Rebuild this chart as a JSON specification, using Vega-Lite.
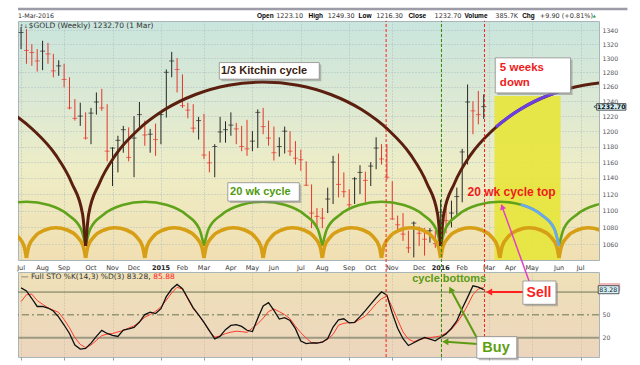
{
"$schema":"https://vega.github.io/schema/vega-lite/v6.json",
"background":"white",
"padding":{"left":16,"top":7,"right":0,"bottom":0},
"bounds":"flush",
"spacing":12,
"config":{"font":"DejaVu Sans","axis":{"labelOverlap":false,"labelBound":false}},
"datasets":{
"months":[{"d":"2014-07-11"},{"d":"2014-08-08"},{"d":"2014-09-05"},{"d":"2014-10-10"},{"d":"2014-11-07"},{"d":"2014-12-05"},{"d":"2015-01-09"},{"d":"2015-02-06"},{"d":"2015-03-06"},{"d":"2015-04-10"},{"d":"2015-05-08"},{"d":"2015-06-05"},{"d":"2015-07-10"},{"d":"2015-08-07"},{"d":"2015-09-11"},{"d":"2015-10-09"},{"d":"2015-11-06"},{"d":"2015-12-11"},{"d":"2016-01-08"},{"d":"2016-02-05"},{"d":"2016-03-11"},{"d":"2016-04-08"},{"d":"2016-05-06"},{"d":"2016-06-10"},{"d":"2016-07-08"}],
"bars":[
{"d":"2014-07-11","h":1345,"l":1313,"c":1337,"dir":"up","k":85.5,"s":67.4},
{"d":"2014-07-18","h":1342,"l":1292,"c":1311,"dir":"down","k":81.5,"s":76.5},
{"d":"2014-07-25","h":1320,"l":1289,"c":1308,"dir":"down","k":71.5,"s":77.3},
{"d":"2014-08-01","h":1313,"l":1281,"c":1296,"dir":"down","k":61.0,"s":68.8},
{"d":"2014-08-08","h":1325,"l":1283,"c":1310,"dir":"up","k":61.0,"s":63.9},
{"d":"2014-08-15","h":1322,"l":1292,"c":1306,"dir":"down","k":59.0,"s":59.3},
{"d":"2014-08-22","h":1306,"l":1273,"c":1282,"dir":"down","k":55.0,"s":56.2},
{"d":"2014-08-29","h":1297,"l":1275,"c":1289,"dir":"up","k":47.0,"s":53.2},
{"d":"2014-09-05","h":1292,"l":1259,"c":1270,"dir":"down","k":36.6,"s":43.8},
{"d":"2014-09-12","h":1273,"l":1229,"c":1231,"dir":"down","k":25.5,"s":33.0},
{"d":"2014-09-19","h":1243,"l":1214,"c":1217,"dir":"down","k":10.3,"s":20.0},
{"d":"2014-09-26","h":1238,"l":1207,"c":1220,"dir":"up","k":5.0,"s":11.1},
{"d":"2014-10-03","h":1225,"l":1189,"c":1191,"dir":"down","k":5.7,"s":6.8},
{"d":"2014-10-10","h":1231,"l":1183,"c":1224,"dir":"up","k":12.8,"s":10.3},
{"d":"2014-10-17","h":1252,"l":1222,"c":1239,"dir":"up","k":21.6,"s":16.3},
{"d":"2014-10-24","h":1257,"l":1227,"c":1231,"dir":"down","k":29.5,"s":22.7},
{"d":"2014-10-31","h":1236,"l":1161,"c":1174,"dir":"down","k":25.5,"s":24.6},
{"d":"2014-11-07","h":1179,"l":1130,"c":1178,"dir":"up","k":23.0,"s":25.4},
{"d":"2014-11-14","h":1194,"l":1147,"c":1188,"dir":"up","k":21.5,"s":27.5},
{"d":"2014-11-21","h":1207,"l":1172,"c":1202,"dir":"up","k":29.9,"s":29.3},
{"d":"2014-11-28","h":1205,"l":1161,"c":1166,"dir":"down","k":31.5,"s":32.6},
{"d":"2014-12-05","h":1220,"l":1141,"c":1191,"dir":"up","k":33.5,"s":35.5},
{"d":"2014-12-12","h":1239,"l":1205,"c":1222,"dir":"up","k":40.5,"s":40.5},
{"d":"2014-12-19","h":1214,"l":1181,"c":1195,"dir":"down","k":50.3,"s":46.9},
{"d":"2014-12-26","h":1203,"l":1172,"c":1196,"dir":"up","k":53.5,"s":50.4},
{"d":"2015-01-02","h":1210,"l":1168,"c":1189,"dir":"down","k":51.7,"s":54.7},
{"d":"2015-01-09","h":1225,"l":1183,"c":1222,"dir":"up","k":58.1,"s":60.4},
{"d":"2015-01-16","h":1284,"l":1218,"c":1280,"dir":"up","k":74.0,"s":69.3},
{"d":"2015-01-23","h":1309,"l":1273,"c":1296,"dir":"up","k":84.0,"s":79.0},
{"d":"2015-01-30","h":1300,"l":1252,"c":1284,"dir":"down","k":90.0,"s":86.3},
{"d":"2015-02-06","h":1277,"l":1231,"c":1234,"dir":"down","k":84.5,"s":83.9},
{"d":"2015-02-13","h":1238,"l":1217,"c":1228,"dir":"down","k":71.9,"s":70.8},
{"d":"2015-02-20","h":1236,"l":1198,"c":1204,"dir":"down","k":59.3,"s":58.1},
{"d":"2015-02-27","h":1219,"l":1189,"c":1214,"dir":"up","k":50.0,"s":49.7},
{"d":"2015-03-06","h":1223,"l":1164,"c":1169,"dir":"down","k":40.1,"s":39.8},
{"d":"2015-03-13","h":1174,"l":1147,"c":1159,"dir":"down","k":29.2,"s":28.3},
{"d":"2015-03-20","h":1183,"l":1141,"c":1180,"dir":"up","k":18.3,"s":20.5},
{"d":"2015-03-27","h":1219,"l":1185,"c":1199,"dir":"up","k":21.8,"s":22.3},
{"d":"2015-04-03","h":1213,"l":1185,"c":1202,"dir":"up","k":30.5,"s":25.3},
{"d":"2015-04-10","h":1225,"l":1194,"c":1208,"dir":"up","k":36.0,"s":27.2},
{"d":"2015-04-17","h":1211,"l":1183,"c":1203,"dir":"down","k":37.0,"s":28.4},
{"d":"2015-04-24","h":1207,"l":1174,"c":1180,"dir":"down","k":34.8,"s":27.9},
{"d":"2015-05-01","h":1215,"l":1168,"c":1177,"dir":"down","k":29.7,"s":26.9},
{"d":"2015-05-08","h":1200,"l":1174,"c":1187,"dir":"up","k":28.0,"s":32.7},
{"d":"2015-05-15","h":1229,"l":1178,"c":1225,"dir":"up","k":45.5,"s":38.2},
{"d":"2015-05-22","h":1231,"l":1196,"c":1206,"dir":"down","k":61.7,"s":45.6},
{"d":"2015-05-29","h":1214,"l":1181,"c":1191,"dir":"down","k":66.0,"s":54.3},
{"d":"2015-06-05","h":1206,"l":1162,"c":1172,"dir":"down","k":55.8,"s":57.7},
{"d":"2015-06-12","h":1192,"l":1167,"c":1180,"dir":"up","k":44.5,"s":54.2},
{"d":"2015-06-19","h":1206,"l":1171,"c":1200,"dir":"up","k":46.4,"s":50.2},
{"d":"2015-06-26","h":1200,"l":1168,"c":1174,"dir":"down","k":42.5,"s":44.9},
{"d":"2015-07-03","h":1187,"l":1157,"c":1165,"dir":"down","k":31.8,"s":35.1},
{"d":"2015-07-10","h":1176,"l":1149,"c":1163,"dir":"down","k":15.6,"s":26.4},
{"d":"2015-07-17","h":1161,"l":1130,"c":1131,"dir":"down","k":12.2,"s":19.5},
{"d":"2015-07-24","h":1132,"l":1079,"c":1097,"dir":"down","k":13.2,"s":13.4},
{"d":"2015-07-31","h":1103,"l":1078,"c":1093,"dir":"down","k":12.9,"s":12.8},
{"d":"2015-08-07","h":1103,"l":1079,"c":1091,"dir":"down","k":14.0,"s":14.4},
{"d":"2015-08-14","h":1128,"l":1097,"c":1114,"dir":"up","k":18.9,"s":17.9},
{"d":"2015-08-21","h":1168,"l":1108,"c":1160,"dir":"up","k":34.0,"s":24.3},
{"d":"2015-08-28","h":1171,"l":1116,"c":1132,"dir":"down","k":43.5,"s":36.4},
{"d":"2015-09-04","h":1147,"l":1116,"c":1123,"dir":"down","k":44.8,"s":38.9},
{"d":"2015-09-11","h":1126,"l":1101,"c":1107,"dir":"down","k":39.4,"s":39.8},
{"d":"2015-09-18","h":1141,"l":1108,"c":1139,"dir":"up","k":40.2,"s":39.8},
{"d":"2015-09-25","h":1156,"l":1120,"c":1147,"dir":"up","k":47.6,"s":44.2},
{"d":"2015-10-02","h":1148,"l":1110,"c":1137,"dir":"down","k":55.6,"s":48.4},
{"d":"2015-10-09","h":1160,"l":1130,"c":1155,"dir":"up","k":64.2,"s":56.3},
{"d":"2015-10-16","h":1192,"l":1151,"c":1178,"dir":"up","k":72.5,"s":64.6},
{"d":"2015-10-23","h":1183,"l":1157,"c":1164,"dir":"down","k":80.4,"s":71.2},
{"d":"2015-10-30","h":1183,"l":1138,"c":1141,"dir":"down","k":75.9,"s":74.5},
{"d":"2015-11-06","h":1136,"l":1089,"c":1090,"dir":"down","k":52.2,"s":60.1},
{"d":"2015-11-13","h":1094,"l":1076,"c":1083,"dir":"down","k":32.3,"s":43.4},
{"d":"2015-11-20","h":1097,"l":1064,"c":1072,"dir":"down","k":18.6,"s":27.5},
{"d":"2015-11-27","h":1076,"l":1050,"c":1056,"dir":"down","k":9.6,"s":18.0},
{"d":"2015-12-04","h":1087,"l":1045,"c":1085,"dir":"up","k":13.3,"s":14.7},
{"d":"2015-12-11","h":1081,"l":1058,"c":1073,"dir":"down","k":17.1,"s":17.2},
{"d":"2015-12-18","h":1079,"l":1047,"c":1066,"dir":"down","k":20.2,"s":19.0},
{"d":"2015-12-25","h":1079,"l":1062,"c":1076,"dir":"up","k":18.1,"s":19.9},
{"d":"2016-01-01","h":1076,"l":1056,"c":1061,"dir":"down","k":15.7,"s":21.0},
{"d":"2016-01-08","h":1113,"l":1072,"c":1098,"dir":"up","k":20.5,"s":22.2},
{"d":"2016-01-15","h":1105,"l":1073,"c":1088,"dir":"down","k":24.9,"s":26.2},
{"d":"2016-01-22","h":1112,"l":1080,"c":1097,"dir":"up","k":32.4,"s":30.7},
{"d":"2016-01-29","h":1128,"l":1095,"c":1117,"dir":"up","k":42.0,"s":39.2},
{"d":"2016-02-05","h":1177,"l":1110,"c":1173,"dir":"up","k":58.4,"s":49.8},
{"d":"2016-02-12","h":1263,"l":1157,"c":1239,"dir":"up","k":73.0,"s":62.5},
{"d":"2016-02-19","h":1240,"l":1196,"c":1227,"dir":"down","k":88.2,"s":76.6},
{"d":"2016-02-26","h":1254,"l":1209,"c":1222,"dir":"down","k":86.5,"s":84.1},
{"d":"2016-03-04","h":1249.3,"l":1216.3,"c":1232.7,"dir":"up","k":83.28,"s":85.88}
],
"cyc":[
{"c":"o","a":0,"d":"2014-05-02","v":2},{"c":"o","a":0,"d":"2014-05-05","v":13.6},{"c":"o","a":0,"d":"2014-05-13","v":23.4},{"c":"o","a":0,"d":"2014-05-26","v":30},{"c":"o","a":0,"d":"2014-06-09","v":32.3},{"c":"o","a":0,"d":"2014-06-24","v":30},{"c":"o","a":0,"d":"2014-07-07","v":23.4},{"c":"o","a":0,"d":"2014-07-15","v":13.6},{"c":"o","a":0,"d":"2014-07-18","v":2},
{"c":"o","a":1,"d":"2014-07-18","v":2},{"c":"o","a":1,"d":"2014-07-21","v":13.6},{"c":"o","a":1,"d":"2014-07-29","v":23.4},{"c":"o","a":1,"d":"2014-08-11","v":30},{"c":"o","a":1,"d":"2014-08-25","v":32.3},{"c":"o","a":1,"d":"2014-09-09","v":30},{"c":"o","a":1,"d":"2014-09-22","v":23.4},{"c":"o","a":1,"d":"2014-09-30","v":13.6},{"c":"o","a":1,"d":"2014-10-03","v":2},
{"c":"o","a":2,"d":"2014-10-03","v":2},{"c":"o","a":2,"d":"2014-10-06","v":13.6},{"c":"o","a":2,"d":"2014-10-14","v":23.4},{"c":"o","a":2,"d":"2014-10-27","v":30},{"c":"o","a":2,"d":"2014-11-10","v":32.3},{"c":"o","a":2,"d":"2014-11-25","v":30},{"c":"o","a":2,"d":"2014-12-08","v":23.4},{"c":"o","a":2,"d":"2014-12-16","v":13.6},{"c":"o","a":2,"d":"2014-12-19","v":2},
{"c":"o","a":3,"d":"2014-12-19","v":2},{"c":"o","a":3,"d":"2014-12-22","v":13.6},{"c":"o","a":3,"d":"2014-12-30","v":23.4},{"c":"o","a":3,"d":"2015-01-12","v":30},{"c":"o","a":3,"d":"2015-01-26","v":32.3},{"c":"o","a":3,"d":"2015-02-10","v":30},{"c":"o","a":3,"d":"2015-02-23","v":23.4},{"c":"o","a":3,"d":"2015-03-03","v":13.6},{"c":"o","a":3,"d":"2015-03-06","v":2},
{"c":"o","a":4,"d":"2015-03-06","v":2},{"c":"o","a":4,"d":"2015-03-09","v":13.6},{"c":"o","a":4,"d":"2015-03-17","v":23.4},{"c":"o","a":4,"d":"2015-03-30","v":30},{"c":"o","a":4,"d":"2015-04-13","v":32.3},{"c":"o","a":4,"d":"2015-04-28","v":30},{"c":"o","a":4,"d":"2015-05-11","v":23.4},{"c":"o","a":4,"d":"2015-05-19","v":13.6},{"c":"o","a":4,"d":"2015-05-22","v":2},
{"c":"o","a":5,"d":"2015-05-22","v":2},{"c":"o","a":5,"d":"2015-05-25","v":13.6},{"c":"o","a":5,"d":"2015-06-02","v":23.4},{"c":"o","a":5,"d":"2015-06-15","v":30},{"c":"o","a":5,"d":"2015-06-29","v":32.3},{"c":"o","a":5,"d":"2015-07-14","v":30},{"c":"o","a":5,"d":"2015-07-27","v":23.4},{"c":"o","a":5,"d":"2015-08-04","v":13.6},{"c":"o","a":5,"d":"2015-08-07","v":2},
{"c":"o","a":6,"d":"2015-08-07","v":2},{"c":"o","a":6,"d":"2015-08-10","v":13.6},{"c":"o","a":6,"d":"2015-08-18","v":23.4},{"c":"o","a":6,"d":"2015-08-31","v":30},{"c":"o","a":6,"d":"2015-09-14","v":32.3},{"c":"o","a":6,"d":"2015-09-29","v":30},{"c":"o","a":6,"d":"2015-10-12","v":23.4},{"c":"o","a":6,"d":"2015-10-20","v":13.6},{"c":"o","a":6,"d":"2015-10-23","v":2},
{"c":"o","a":7,"d":"2015-10-23","v":2},{"c":"o","a":7,"d":"2015-10-26","v":13.6},{"c":"o","a":7,"d":"2015-11-03","v":23.4},{"c":"o","a":7,"d":"2015-11-16","v":30},{"c":"o","a":7,"d":"2015-11-30","v":32.3},{"c":"o","a":7,"d":"2015-12-15","v":30},{"c":"o","a":7,"d":"2015-12-28","v":23.4},{"c":"o","a":7,"d":"2016-01-05","v":13.6},{"c":"o","a":7,"d":"2016-01-08","v":2},
{"c":"o","a":8,"d":"2016-01-08","v":2},{"c":"o","a":8,"d":"2016-01-11","v":13.6},{"c":"o","a":8,"d":"2016-01-19","v":23.4},{"c":"o","a":8,"d":"2016-02-01","v":30},{"c":"o","a":8,"d":"2016-02-15","v":32.3},{"c":"o","a":8,"d":"2016-03-01","v":30},{"c":"o","a":8,"d":"2016-03-14","v":23.4},{"c":"o","a":8,"d":"2016-03-22","v":13.6},{"c":"o","a":8,"d":"2016-03-25","v":2},
{"c":"o","a":9,"d":"2016-03-25","v":2},{"c":"o","a":9,"d":"2016-03-28","v":13.6},{"c":"o","a":9,"d":"2016-04-05","v":23.4},{"c":"o","a":9,"d":"2016-04-18","v":30},{"c":"o","a":9,"d":"2016-05-02","v":32.3},{"c":"o","a":9,"d":"2016-05-17","v":30},{"c":"o","a":9,"d":"2016-05-30","v":23.4},{"c":"o","a":9,"d":"2016-06-07","v":13.6},{"c":"o","a":9,"d":"2016-06-10","v":2},
{"c":"o","a":10,"d":"2016-06-10","v":2},{"c":"o","a":10,"d":"2016-06-13","v":13.6},{"c":"o","a":10,"d":"2016-06-21","v":23.4},{"c":"o","a":10,"d":"2016-07-04","v":30},{"c":"o","a":10,"d":"2016-07-18","v":32.3},{"c":"o","a":10,"d":"2016-08-02","v":30},{"c":"o","a":10,"d":"2016-08-15","v":23.4},{"c":"o","a":10,"d":"2016-08-23","v":13.6},{"c":"o","a":10,"d":"2016-08-26","v":2},
{"c":"g","a":0,"d":"2014-05-02","v":14},{"c":"g","a":0,"d":"2014-05-08","v":31},{"c":"g","a":0,"d":"2014-05-25","v":45.3},{"c":"g","a":0,"d":"2014-06-19","v":54.9},{"c":"g","a":0,"d":"2014-07-18","v":58.3},{"c":"g","a":0,"d":"2014-08-16","v":54.9},{"c":"g","a":0,"d":"2014-09-10","v":45.3},{"c":"g","a":0,"d":"2014-09-27","v":31},{"c":"g","a":0,"d":"2014-10-03","v":14},
{"c":"g","a":1,"d":"2014-10-03","v":14},{"c":"g","a":1,"d":"2014-10-09","v":31},{"c":"g","a":1,"d":"2014-10-26","v":45.3},{"c":"g","a":1,"d":"2014-11-20","v":54.9},{"c":"g","a":1,"d":"2014-12-19","v":58.3},{"c":"g","a":1,"d":"2015-01-17","v":54.9},{"c":"g","a":1,"d":"2015-02-11","v":45.3},{"c":"g","a":1,"d":"2015-02-28","v":31},{"c":"g","a":1,"d":"2015-03-06","v":14},
{"c":"g","a":2,"d":"2015-03-06","v":14},{"c":"g","a":2,"d":"2015-03-12","v":31},{"c":"g","a":2,"d":"2015-03-29","v":45.3},{"c":"g","a":2,"d":"2015-04-23","v":54.9},{"c":"g","a":2,"d":"2015-05-22","v":58.3},{"c":"g","a":2,"d":"2015-06-20","v":54.9},{"c":"g","a":2,"d":"2015-07-15","v":45.3},{"c":"g","a":2,"d":"2015-08-01","v":31},{"c":"g","a":2,"d":"2015-08-07","v":14},
{"c":"g","a":3,"d":"2015-08-07","v":14},{"c":"g","a":3,"d":"2015-08-13","v":31},{"c":"g","a":3,"d":"2015-08-30","v":45.3},{"c":"g","a":3,"d":"2015-09-24","v":54.9},{"c":"g","a":3,"d":"2015-10-23","v":58.3},{"c":"g","a":3,"d":"2015-11-21","v":54.9},{"c":"g","a":3,"d":"2015-12-16","v":45.3},{"c":"g","a":3,"d":"2016-01-02","v":31},{"c":"g","a":3,"d":"2016-01-08","v":14},
{"c":"g","a":4,"d":"2016-01-08","v":14},{"c":"g","a":4,"d":"2016-01-14","v":31},{"c":"g","a":4,"d":"2016-01-31","v":45.3},{"c":"g","a":4,"d":"2016-02-25","v":54.9},{"c":"g","a":4,"d":"2016-03-25","v":58.3},{"c":"g","a":4,"d":"2016-04-23","v":54.9},{"c":"g","a":4,"d":"2016-05-18","v":45.3},{"c":"g","a":4,"d":"2016-06-04","v":31},{"c":"g","a":4,"d":"2016-06-10","v":14},
{"c":"g","a":5,"d":"2016-06-10","v":14},{"c":"g","a":5,"d":"2016-06-16","v":31},{"c":"g","a":5,"d":"2016-07-03","v":45.3},{"c":"g","a":5,"d":"2016-07-28","v":54.9},{"c":"g","a":5,"d":"2016-08-26","v":58.3},{"c":"g","a":5,"d":"2016-09-24","v":54.9},{"c":"g","a":5,"d":"2016-10-19","v":45.3},{"c":"g","a":5,"d":"2016-11-05","v":31},{"c":"g","a":5,"d":"2016-11-11","v":14},
{"c":"k","a":0,"d":"2014-02-14","v":178},{"c":"k","a":0,"d":"2014-03-31","v":174.8},{"c":"k","a":0,"d":"2014-05-13","v":165.5},{"c":"k","a":0,"d":"2014-06-22","v":150.4},{"c":"k","a":0,"d":"2014-07-27","v":130},{"c":"k","a":0,"d":"2014-08-25","v":105.1},{"c":"k","a":0,"d":"2014-09-15","v":76.8},{"c":"k","a":0,"d":"2014-09-29","v":46},{"c":"k","a":0,"d":"2014-10-03","v":14},
{"c":"k","a":1,"d":"2014-10-03","v":14},{"c":"k","a":1,"d":"2014-10-07","v":46},{"c":"k","a":1,"d":"2014-10-21","v":76.8},{"c":"k","a":1,"d":"2014-11-11","v":105.1},{"c":"k","a":1,"d":"2014-12-10","v":130},{"c":"k","a":1,"d":"2015-01-14","v":150.4},{"c":"k","a":1,"d":"2015-02-23","v":165.5},{"c":"k","a":1,"d":"2015-04-07","v":174.8},{"c":"k","a":1,"d":"2015-05-22","v":178},{"c":"k","a":1,"d":"2015-07-06","v":174.8},{"c":"k","a":1,"d":"2015-08-18","v":165.5},{"c":"k","a":1,"d":"2015-09-27","v":150.4},{"c":"k","a":1,"d":"2015-11-01","v":130},{"c":"k","a":1,"d":"2015-11-30","v":105.1},{"c":"k","a":1,"d":"2015-12-21","v":76.8},{"c":"k","a":1,"d":"2016-01-04","v":46},{"c":"k","a":1,"d":"2016-01-08","v":14},
{"c":"k","a":2,"d":"2016-01-08","v":14},{"c":"k","a":2,"d":"2016-01-12","v":46},{"c":"k","a":2,"d":"2016-01-26","v":76.8},{"c":"k","a":2,"d":"2016-02-16","v":105.1},{"c":"k","a":2,"d":"2016-03-16","v":130},{"c":"k","a":2,"d":"2016-04-20","v":150.4},{"c":"k","a":2,"d":"2016-05-30","v":165.5},{"c":"k","a":2,"d":"2016-07-12","v":174.8},{"c":"k","a":2,"d":"2016-08-26","v":178},{"c":"k","a":2,"d":"2016-10-10","v":174.8},
{"c":"p","a":0,"d":"2016-03-20","v":133},{"c":"p","a":0,"d":"2016-04-05","v":142.8},{"c":"p","a":0,"d":"2016-04-20","v":150.4},{"c":"p","a":0,"d":"2016-05-12","v":159.7},{"c":"p","a":0,"d":"2016-05-30","v":165.5},{"c":"p","a":0,"d":"2016-06-12","v":169.1},
{"c":"b","a":0,"d":"2016-04-21","v":55.5},{"c":"b","a":0,"d":"2016-05-07","v":50.75},{"c":"b","a":0,"d":"2016-05-18","v":45.3},{"c":"b","a":0,"d":"2016-06-04","v":31},{"c":"b","a":0,"d":"2016-06-10","v":14}
]
},
"vconcat":[
{
"width":581,"height":239,
"view":{"fill":{"gradient":"linear","x1":0,"y1":0,"x2":0,"y2":1,"stops":[{"offset":0,"color":"#c9e5dd"},{"offset":0.35,"color":"#dde9d3"},{"offset":0.62,"color":"#eeedc6"},{"offset":1,"color":"#f1dfb2"}]},"stroke":"#a9b6b9"},
"resolve":{"scale":{"y":"independent"}},
"layer":[
{"layer":[
{"data":{"values":[{}]},"mark":{"type":"rect","fill":"#e7e53d","opacity":0.92},
"encoding":{
"x":{"datum":{"year":2016,"month":3,"date":18},"type":"temporal","scale":{"domain":[{"year":2014,"month":7,"date":7},{"year":2016,"month":8,"date":1}],"nice":false},
"axis":{"values":[{"year":2014,"month":7,"date":11},{"year":2014,"month":8,"date":8},{"year":2014,"month":9,"date":5},{"year":2014,"month":10,"date":10},{"year":2014,"month":11,"date":7},{"year":2014,"month":12,"date":5},{"year":2015,"month":1,"date":9},{"year":2015,"month":2,"date":6},{"year":2015,"month":3,"date":6},{"year":2015,"month":4,"date":10},{"year":2015,"month":5,"date":8},{"year":2015,"month":6,"date":5},{"year":2015,"month":7,"date":10},{"year":2015,"month":8,"date":7},{"year":2015,"month":9,"date":11},{"year":2015,"month":10,"date":9},{"year":2015,"month":11,"date":6},{"year":2015,"month":12,"date":11},{"year":2016,"month":1,"date":8},{"year":2016,"month":2,"date":5},{"year":2016,"month":3,"date":11},{"year":2016,"month":4,"date":8},{"year":2016,"month":5,"date":6},{"year":2016,"month":6,"date":10},{"year":2016,"month":7,"date":8}],
"labels":false,"grid":true,"gridColor":"#aebfc0","gridDash":[1,2],"ticks":false,"domain":false,"title":null}},
"x2":{"datum":{"year":2016,"month":6,"date":12}},
"y":{"datum":1042,"type":"quantitative","scale":{"type":"log","domain":[1042,1354],"nice":false},
"axis":{"orient":"right","values":[1060,1080,1100,1120,1140,1160,1180,1200,1220,1240,1260,1280,1300,1320,1340],"format":"d","grid":true,"gridColor":"#aebfc0","gridDash":[1,2],"ticks":false,"domain":false,"labelFont":"DejaVu Sans","labelFontSize":6.2,"labelColor":"#555","labelPadding":3,"labelOverlap":false,"title":null}},
"y2":{"datum":1247.3}}},
{"data":{"name":"bars"},"mark":{"type":"rule","strokeWidth":1},
"encoding":{"x":{"field":"d","type":"temporal"},"y":{"field":"l","type":"quantitative"},"y2":{"field":"h"},
"color":{"field":"dir","type":"nominal","scale":{"domain":["up","down"],"range":["#262626","#e5362d"]},"legend":null}}},
{"data":{"name":"bars"},"mark":{"type":"tick","orient":"horizontal","size":5,"thickness":1},
"encoding":{"x":{"field":"d","type":"temporal"},"y":{"field":"c","type":"quantitative"},
"color":{"field":"dir","type":"nominal","scale":{"domain":["up","down"],"range":["#262626","#e5362d"]},"legend":null}}}
]},
{"data":{"name":"cyc"},"layer":[
{"transform":[{"filter":"datum.c == 'g'"}],"mark":{"type":"line","interpolate":"monotone","clip":true,"strokeWidth":2.6,"color":"#5fa31a"},
"encoding":{"x":{"field":"d","type":"temporal"},"y":{"field":"v","type":"quantitative","scale":{"domain":[0,239],"nice":false,"zero":false},"axis":null},"detail":{"field":"a"}}},
{"transform":[{"filter":"datum.c == 'o'"}],"mark":{"type":"line","interpolate":"monotone","clip":true,"strokeWidth":3.6,"color":"#d69f16"},
"encoding":{"x":{"field":"d","type":"temporal"},"y":{"field":"v","type":"quantitative","axis":null},"detail":{"field":"a"}}},
{"transform":[{"filter":"datum.c == 'k'"}],"mark":{"type":"line","interpolate":"monotone","clip":true,"strokeWidth":3,"color":"#5b1f0f"},
"encoding":{"x":{"field":"d","type":"temporal"},"y":{"field":"v","type":"quantitative","axis":null},"detail":{"field":"a"}}},
{"transform":[{"filter":"datum.c == 'b'"}],"mark":{"type":"line","interpolate":"monotone","clip":true,"strokeWidth":2.8,"color":"#6aa9f2"},
"encoding":{"x":{"field":"d","type":"temporal"},"y":{"field":"v","type":"quantitative","axis":null},"detail":{"field":"a"}}},
{"transform":[{"filter":"datum.c == 'p'"}],"mark":{"type":"line","interpolate":"monotone","clip":true,"strokeWidth":3.2,"color":"#6b3fe3"},
"encoding":{"x":{"field":"d","type":"temporal"},"y":{"field":"v","type":"quantitative","axis":null},"detail":{"field":"a"}}}
]},
{"data":{"values":[{}]},"layer":[
{"mark":{"type":"rule","color":"#9c9ca8","strokeWidth":2.5},"encoding":{"x":{"datum":{"year":2014,"month":7,"date":7},"type":"temporal"},"x2":{"datum":{"year":2016,"month":9,"date":7}},"y":{"datum":1372,"type":"quantitative","scale":{"type":"log","domain":[1042,1354],"nice":false},"axis":null}}},
{"data":{"name":"months"},"transform":[{"filter":"month(datum.d) != 0"}],"mark":{"type":"text","align":"center","baseline":"middle","font":"DejaVu Sans","fontSize":6.5,"color":"#333"},"encoding":{"x":{"field":"d","type":"temporal"},"y":{"datum":1033.3,"type":"quantitative","axis":null},"text":{"field":"d","type":"temporal","format":"%b"}}},
{"data":{"name":"months"},"transform":[{"filter":"month(datum.d) == 0"}],"mark":{"type":"text","align":"center","baseline":"middle","font":"DejaVu Sans","fontSize":6.5,"fontWeight":"bold","color":"#222"},"encoding":{"x":{"field":"d","type":"temporal"},"y":{"datum":1033.3,"type":"quantitative","axis":null},"text":{"field":"d","type":"temporal","format":"%Y"}}},
{"mark":{"type":"text","align":"left","baseline":"middle","font":"DejaVu Sans","fontSize":6.3,"color":"#333"},"encoding":{"x":{"datum":{"year":2014,"month":7,"date":7},"type":"temporal"},"y":{"datum":1361.3,"type":"quantitative","axis":null},"text":{"value":"1-Mar-2016"}}},
{"mark":{"type":"text","align":"left","baseline":"middle","font":"Liberation Sans","fontSize":6.5,"fontWeight":"bold","color":"#000"},"encoding":{"x":{"datum":{"year":2015,"month":5,"date":14},"type":"temporal"},"y":{"datum":1361.3,"type":"quantitative","axis":null},"text":{"value":"Open"}}},
{"mark":{"type":"text","align":"left","baseline":"middle","font":"DejaVu Sans","fontSize":6.5,"color":"#333"},"encoding":{"x":{"datum":{"year":2015,"month":6,"date":8},"type":"temporal"},"y":{"datum":1361.3,"type":"quantitative","axis":null},"text":{"value":"1223.10"}}},
{"mark":{"type":"text","align":"left","baseline":"middle","font":"Liberation Sans","fontSize":6.5,"fontWeight":"bold","color":"#000"},"encoding":{"x":{"datum":{"year":2015,"month":7,"date":20},"type":"temporal"},"y":{"datum":1361.3,"type":"quantitative","axis":null},"text":{"value":"High"}}},
{"mark":{"type":"text","align":"left","baseline":"middle","font":"DejaVu Sans","fontSize":6.5,"color":"#333"},"encoding":{"x":{"datum":{"year":2015,"month":8,"date":14},"type":"temporal"},"y":{"datum":1361.3,"type":"quantitative","axis":null},"text":{"value":"1249.30"}}},
{"mark":{"type":"text","align":"left","baseline":"middle","font":"Liberation Sans","fontSize":6.5,"fontWeight":"bold","color":"#000"},"encoding":{"x":{"datum":{"year":2015,"month":9,"date":23},"type":"temporal"},"y":{"datum":1361.3,"type":"quantitative","axis":null},"text":{"value":"Low"}}},
{"mark":{"type":"text","align":"left","baseline":"middle","font":"DejaVu Sans","fontSize":6.5,"color":"#333"},"encoding":{"x":{"datum":{"year":2015,"month":10,"date":16},"type":"temporal"},"y":{"datum":1361.3,"type":"quantitative","axis":null},"text":{"value":"1216.30"}}},
{"mark":{"type":"text","align":"left","baseline":"middle","font":"Liberation Sans","fontSize":6.5,"fontWeight":"bold","color":"#000"},"encoding":{"x":{"datum":{"year":2015,"month":11,"date":27},"type":"temporal"},"y":{"datum":1361.3,"type":"quantitative","axis":null},"text":{"value":"Close"}}},
{"mark":{"type":"text","align":"left","baseline":"middle","font":"DejaVu Sans","fontSize":6.5,"color":"#333"},"encoding":{"x":{"datum":{"year":2015,"month":12,"date":31},"type":"temporal"},"y":{"datum":1361.3,"type":"quantitative","axis":null},"text":{"value":"1232.70"}}},
{"mark":{"type":"text","align":"left","baseline":"middle","font":"Liberation Sans","fontSize":6.5,"fontWeight":"bold","color":"#000"},"encoding":{"x":{"datum":{"year":2016,"month":2,"date":8},"type":"temporal"},"y":{"datum":1361.3,"type":"quantitative","axis":null},"text":{"value":"Volume"}}},
{"mark":{"type":"text","align":"left","baseline":"middle","font":"DejaVu Sans","fontSize":6.5,"color":"#333"},"encoding":{"x":{"datum":{"year":2016,"month":3,"date":19},"type":"temporal"},"y":{"datum":1361.3,"type":"quantitative","axis":null},"text":{"value":"385.7K"}}},
{"mark":{"type":"text","align":"left","baseline":"middle","font":"Liberation Sans","fontSize":6.5,"fontWeight":"bold","color":"#000"},"encoding":{"x":{"datum":{"year":2016,"month":4,"date":23},"type":"temporal"},"y":{"datum":1361.3,"type":"quantitative","axis":null},"text":{"value":"Chg"}}},
{"mark":{"type":"text","align":"left","baseline":"middle","font":"DejaVu Sans","fontSize":6.5,"color":"#333"},"encoding":{"x":{"datum":{"year":2016,"month":5,"date":16},"type":"temporal"},"y":{"datum":1361.3,"type":"quantitative","axis":null},"text":{"value":"+9.90 (+0.81%)"}}},
{"mark":{"type":"point","shape":"triangle-up","filled":true,"size":10,"color":"#2a9a2a","opacity":1},"encoding":{"x":{"datum":{"year":2016,"month":7,"date":26},"type":"temporal"},"y":{"datum":1361.3,"type":"quantitative","axis":null}}},
{"mark":{"type":"text","align":"left","baseline":"middle","font":"DejaVu Sans","fontSize":5,"color":"#333"},"encoding":{"x":{"datum":{"year":2014,"month":7,"date":9},"type":"temporal"},"y":{"datum":1347.2,"type":"quantitative","axis":null},"text":{"value":"↑↓"}}},
{"mark":{"type":"text","align":"left","baseline":"middle","font":"DejaVu Sans","fontSize":7.5,"color":"#333"},"encoding":{"x":{"datum":{"year":2014,"month":7,"date":21},"type":"temporal"},"y":{"datum":1347.2,"type":"quantitative","axis":null},"text":{"value":"$GOLD (Weekly) 1232.70 (1 Mar)"}}},
{"encoding":{"x":{"datum":{"year":2015,"month":3,"date":26},"type":"temporal"},"x2":{"datum":{"year":2015,"month":8,"date":3}},"y":{"datum":1293.7,"type":"quantitative","axis":null},"y2":{"datum":1270.4}},
"layer":[{"mark":{"type":"rect","fill":"#8a8a8a","opacity":0.55,"xOffset":2,"x2Offset":2,"yOffset":2,"y2Offset":2}},{"mark":{"type":"rect","fill":"white","stroke":"#8a8a8a","strokeWidth":0.8}}]},
{"mark":{"type":"text","align":"left","baseline":"middle","font":"Liberation Sans","fontSize":11,"fontWeight":"bold","color":"#3a1c10"},"encoding":{"x":{"datum":{"year":2015,"month":3,"date":28},"type":"temporal"},"y":{"datum":1282,"type":"quantitative","axis":null},"text":{"value":"1/3 Kitchin cycle"}}},
{"encoding":{"x":{"datum":{"year":2015,"month":4,"date":6},"type":"temporal"},"x2":{"datum":{"year":2015,"month":7,"date":8}},"y":{"datum":1134.1,"type":"quantitative","axis":null},"y2":{"datum":1111.5}},
"layer":[{"mark":{"type":"rect","fill":"#8a8a8a","opacity":0.55,"xOffset":2,"x2Offset":2,"yOffset":2,"y2Offset":2}},{"mark":{"type":"rect","fill":"white","stroke":"#8a8a8a","strokeWidth":0.8}}]},
{"mark":{"type":"text","align":"left","baseline":"middle","font":"Liberation Sans","fontSize":11,"fontWeight":"bold","color":"#4e9a0f"},"encoding":{"x":{"datum":{"year":2015,"month":4,"date":9},"type":"temporal"},"y":{"datum":1123.2,"type":"quantitative","axis":null},"text":{"value":"20 wk cycle"}}},
{"encoding":{"x":{"datum":{"year":2016,"month":3,"date":19},"type":"temporal"},"x2":{"datum":{"year":2016,"month":6,"date":25}},"y":{"datum":1300.4,"type":"quantitative","axis":null},"y2":{"datum":1251.4}},
"layer":[{"mark":{"type":"rect","fill":"#8a8a8a","opacity":0.55,"xOffset":2,"x2Offset":2,"yOffset":2,"y2Offset":2}},{"mark":{"type":"rect","fill":"white","stroke":"#8a8a8a","strokeWidth":0.8}}]},
{"mark":{"type":"text","align":"left","baseline":"middle","font":"Liberation Sans","fontSize":11.5,"fontWeight":"bold","color":"#ee1c1c"},"encoding":{"x":{"datum":{"year":2016,"month":3,"date":25},"type":"temporal"},"y":{"datum":1286.2,"type":"quantitative","axis":null},"text":{"value":"5 weeks"}}},
{"mark":{"type":"text","align":"left","baseline":"middle","font":"Liberation Sans","fontSize":11.5,"fontWeight":"bold","color":"#ee1c1c"},"encoding":{"x":{"datum":{"year":2016,"month":3,"date":25},"type":"temporal"},"y":{"datum":1265.2,"type":"quantitative","axis":null},"text":{"value":"down"}}},
{"mark":{"type":"text","align":"left","baseline":"middle","font":"Liberation Sans","fontSize":12,"fontWeight":"bold","color":"#ee1c1c"},"encoding":{"x":{"datum":{"year":2016,"month":2,"date":12},"type":"temporal"},"y":{"datum":1122.5,"type":"quantitative","axis":null},"text":{"value":"20 wk cycle top"}}},
{"mark":{"type":"point","shape":"triangle-left","filled":true,"size":22,"fill":"#d3eef7","stroke":"#333","strokeWidth":0.8,"opacity":1},"encoding":{"x":{"datum":{"year":2016,"month":7,"date":28},"type":"temporal"},"y":{"datum":1232.7,"type":"quantitative","axis":null}}},
{"mark":{"type":"rect","fill":"#d3eef7","stroke":"#333","strokeWidth":0.8},"encoding":{"x":{"datum":{"year":2016,"month":7,"date":29},"type":"temporal"},"x2":{"datum":{"year":2016,"month":9,"date":5}},"y":{"datum":1236.8,"type":"quantitative","axis":null},"y2":{"datum":1227.9}}},
{"mark":{"type":"text","align":"center","baseline":"middle","font":"DejaVu Sans","fontSize":6.3,"fontWeight":"bold","color":"#111"},"encoding":{"x":{"datum":{"year":2016,"month":8,"date":17},"type":"temporal"},"y":{"datum":1232.7,"type":"quantitative","axis":null},"text":{"value":"1232.70"}}}
]}
]
},
{
"width":581,"height":85,
"view":{"fill":{"gradient":"linear","x1":0,"y1":0,"x2":0,"y2":1,"stops":[{"offset":0,"color":"#efe1b8"},{"offset":1,"color":"#ecd5bd"}]},"stroke":"#a9b6b9"},
"layer":[
{"data":{"values":[{}]},"mark":{"type":"rule","color":"#6a7356","strokeWidth":1},"encoding":{"y":{"datum":80,"type":"quantitative","scale":{"domain":[-5.5,106.4],"nice":false,"zero":false},
"axis":{"orient":"right","values":[20,50],"grid":false,"ticks":false,"domain":false,"labelFont":"DejaVu Sans","labelFontSize":6.2,"labelColor":"#555","labelPadding":3,"title":null}}}},
{"data":{"values":[{}]},"mark":{"type":"rule","color":"#6a7356","strokeWidth":1,"strokeDash":[7,3,2,3]},"encoding":{"y":{"datum":50,"type":"quantitative"}}},
{"data":{"values":[{}]},"mark":{"type":"rule","color":"#9d9a84","strokeWidth":2},"encoding":{"y":{"datum":20,"type":"quantitative"}}},
{"data":{"name":"bars"},"mark":{"type":"line","color":"#ff3b30","strokeWidth":1},
"encoding":{"x":{"field":"d","type":"temporal","scale":{"domain":[{"year":2014,"month":7,"date":7},{"year":2016,"month":8,"date":1}],"nice":false},
"axis":{"values":[{"year":2014,"month":7,"date":11},{"year":2014,"month":8,"date":8},{"year":2014,"month":9,"date":5},{"year":2014,"month":10,"date":10},{"year":2014,"month":11,"date":7},{"year":2014,"month":12,"date":5},{"year":2015,"month":1,"date":9},{"year":2015,"month":2,"date":6},{"year":2015,"month":3,"date":6},{"year":2015,"month":4,"date":10},{"year":2015,"month":5,"date":8},{"year":2015,"month":6,"date":5},{"year":2015,"month":7,"date":10},{"year":2015,"month":8,"date":7},{"year":2015,"month":9,"date":11},{"year":2015,"month":10,"date":9},{"year":2015,"month":11,"date":6},{"year":2015,"month":12,"date":11},{"year":2016,"month":1,"date":8},{"year":2016,"month":2,"date":5},{"year":2016,"month":3,"date":11},{"year":2016,"month":4,"date":8},{"year":2016,"month":5,"date":6},{"year":2016,"month":6,"date":10},{"year":2016,"month":7,"date":8}],
"labels":false,"grid":true,"gridColor":"#c6baa0","gridDash":[1,2],"ticks":true,"tickSize":3,"tickColor":"#8fa5a8","domain":false,"title":null}},
"y":{"field":"s","type":"quantitative","axis":{"title":null}}}},
{"data":{"name":"bars"},"mark":{"type":"line","color":"#111","strokeWidth":1.3},
"encoding":{"x":{"field":"d","type":"temporal"},"y":{"field":"k","type":"quantitative"}}},
{"data":{"values":[{}]},"layer":[
{"mark":{"type":"rule","color":"#ff2020","strokeWidth":1,"strokeDash":[3,2]},"encoding":{"x":{"datum":{"year":2015,"month":10,"date":29},"type":"temporal"},"y":{"datum":-5.5,"type":"quantitative"},"y2":{"datum":437}}},
{"mark":{"type":"rule","color":"#2e8b00","strokeWidth":1,"strokeDash":[3,2]},"encoding":{"x":{"datum":{"year":2016,"month":1,"date":9},"type":"temporal"},"y":{"datum":-5.5,"type":"quantitative"},"y2":{"datum":437}}},
{"mark":{"type":"rule","color":"#ff2020","strokeWidth":1,"strokeDash":[3,2]},"encoding":{"x":{"datum":{"year":2016,"month":3,"date":5},"type":"temporal"},"y":{"datum":-5.5,"type":"quantitative"},"y2":{"datum":437}}},
{"mark":{"type":"rule","color":"#e040c8","strokeWidth":1.5},"encoding":{"x":{"datum":{"year":2016,"month":5,"date":2},"type":"temporal"},"x2":{"datum":{"year":2016,"month":3,"date":27}},"y":{"datum":94.55,"type":"quantitative"},"y2":{"datum":195}}},
{"mark":{"type":"point","shape":"triangle-up","filled":true,"size":40,"angle":340,"color":"#e040c8","opacity":1},"encoding":{"x":{"datum":{"year":2016,"month":3,"date":28},"type":"temporal"},"y":{"datum":192.2,"type":"quantitative"}}},
{"mark":{"type":"rule","color":"#ff2020","strokeWidth":2},"encoding":{"x":{"datum":{"year":2016,"month":3,"date":12},"type":"temporal"},"x2":{"datum":{"year":2016,"month":4,"date":24}},"y":{"datum":80.1,"type":"quantitative"}}},
{"mark":{"type":"point","shape":"triangle-left","filled":true,"size":50,"color":"#ff2020","opacity":1},"encoding":{"x":{"datum":{"year":2016,"month":3,"date":11},"type":"temporal"},"y":{"datum":80.1,"type":"quantitative"}}},
{"mark":{"type":"rule","color":"#5e9a14","strokeWidth":2},"encoding":{"x":{"datum":{"year":2016,"month":2,"date":25},"type":"temporal"},"x2":{"datum":{"year":2016,"month":1,"date":21}},"y":{"datum":18.0,"type":"quantitative"},"y2":{"datum":83.4}}},
{"mark":{"type":"point","shape":"triangle-up","filled":true,"size":50,"angle":332,"color":"#5e9a14","opacity":1},"encoding":{"x":{"datum":{"year":2016,"month":1,"date":21},"type":"temporal"},"y":{"datum":83.4,"type":"quantitative"}}},
{"mark":{"type":"rule","color":"#5e9a14","strokeWidth":2},"encoding":{"x":{"datum":{"year":2016,"month":2,"date":25},"type":"temporal"},"x2":{"datum":{"year":2016,"month":1,"date":15}},"y":{"datum":11.5,"type":"quantitative"},"y2":{"datum":14.5}}},
{"mark":{"type":"point","shape":"triangle-left","filled":true,"size":50,"color":"#5e9a14","opacity":1},"encoding":{"x":{"datum":{"year":2016,"month":1,"date":14},"type":"temporal"},"y":{"datum":14.6,"type":"quantitative"}}},
{"encoding":{"x":{"datum":{"year":2016,"month":4,"date":24},"type":"temporal"},"x2":{"datum":{"year":2016,"month":6,"date":6}},"y":{"datum":94.55,"type":"quantitative"},"y2":{"datum":63.9}},
"layer":[{"mark":{"type":"rect","fill":"#8a8a8a","opacity":0.55,"xOffset":2,"x2Offset":2,"yOffset":2,"y2Offset":2}},{"mark":{"type":"rect","fill":"white","stroke":"#8a8a8a","strokeWidth":0.8}}]},
{"mark":{"type":"text","align":"center","baseline":"middle","font":"Liberation Sans","fontSize":14,"fontWeight":"bold","color":"#ff1e1e"},"encoding":{"x":{"datum":{"year":2016,"month":5,"date":15},"type":"temporal"},"y":{"datum":79.1,"type":"quantitative"},"text":{"value":"Sell"}}},
{"encoding":{"x":{"datum":{"year":2016,"month":2,"date":24},"type":"temporal"},"x2":{"datum":{"year":2016,"month":4,"date":16}},"y":{"datum":21.3,"type":"quantitative"},"y2":{"datum":-7.2}},
"layer":[{"mark":{"type":"rect","fill":"#8a8a8a","opacity":0.55,"xOffset":2,"x2Offset":2,"yOffset":2,"y2Offset":2}},{"mark":{"type":"rect","fill":"white","stroke":"#8a8a8a","strokeWidth":0.8}}]},
{"mark":{"type":"text","align":"center","baseline":"middle","font":"Liberation Sans","fontSize":14.5,"fontWeight":"bold","color":"#5e9e10"},"encoding":{"x":{"datum":{"year":2016,"month":3,"date":20},"type":"temporal"},"y":{"datum":7.0,"type":"quantitative"},"text":{"value":"Buy"}}},
{"mark":{"type":"text","align":"left","baseline":"middle","font":"Liberation Sans","fontSize":11,"fontWeight":"bold","color":"#5a9a14"},"encoding":{"x":{"datum":{"year":2015,"month":12,"date":2},"type":"temporal"},"y":{"datum":97.6,"type":"quantitative"},"text":{"value":"cycle bottoms"}}},
{"mark":{"type":"text","align":"left","baseline":"middle","font":"DejaVu Sans","fontSize":7.5,"color":"#333"},"encoding":{"x":{"datum":{"year":2014,"month":7,"date":11},"type":"temporal"},"y":{"datum":99.8,"type":"quantitative"},"text":{"value":"— Full STO %K(14,3) %D(3) 83.28,"}}},
{"mark":{"type":"text","align":"left","baseline":"middle","font":"DejaVu Sans","fontSize":7.5,"color":"#ff2020"},"encoding":{"x":{"datum":{"year":2014,"month":12,"date":30},"type":"temporal"},"y":{"datum":99.8,"type":"quantitative"},"text":{"value":"85.88"}}},
{"mark":{"type":"rect","fill":"#f7c3c6","stroke":"#e08a8a","strokeWidth":0.6},"encoding":{"x":{"datum":{"year":2016,"month":8,"date":1},"type":"temporal"},"x2":{"datum":{"year":2016,"month":8,"date":28}},"y":{"datum":91.0,"type":"quantitative"},"y2":{"datum":81.4}}},
{"mark":{"type":"rect","fill":"#d3eef7","stroke":"#333","strokeWidth":0.8},"encoding":{"x":{"datum":{"year":2016,"month":7,"date":31},"type":"temporal"},"x2":{"datum":{"year":2016,"month":8,"date":27}},"y":{"datum":88.4,"type":"quantitative"},"y2":{"datum":77.8}}},
{"mark":{"type":"text","align":"center","baseline":"middle","font":"DejaVu Sans","fontSize":6.2,"color":"#111"},"encoding":{"x":{"datum":{"year":2016,"month":8,"date":13},"type":"temporal"},"y":{"datum":83.1,"type":"quantitative"},"text":{"value":"83.28"}}}
]}
]
}
]
}
